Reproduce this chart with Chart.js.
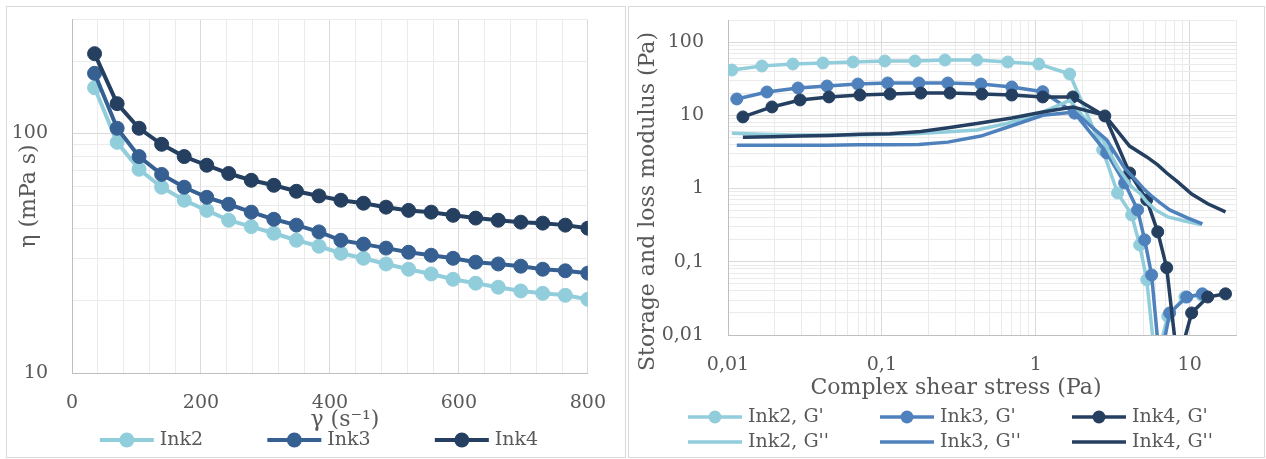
<!DOCTYPE html>
<html>
<head>
<meta charset="utf-8">
<script src="https://cdn.jsdelivr.net/npm/chart.js@4"></script>
<style>
  html, body { margin: 0; padding: 0; background: #fff; }
  .panel { position: absolute; top: 6px; height: 452px; border: 1px solid #d9d9d9; box-sizing: border-box; background: #fff; }
  #leftPanel { left: 6px; width: 620px; }
  #rightPanel { left: 628px; width: 637px; }
  canvas { position: absolute; left: 0; top: 0; }
</style>
</head>
<body>
<div class="panel" id="leftPanel"><canvas id="viscChart" width="618" height="450" style="width:618px;height:450px"></canvas></div>
<div class="panel" id="rightPanel"><canvas id="modChart" width="635" height="450" style="width:635px;height:450px"></canvas></div>
<script>
// ---- left chart: viscosity vs shear rate ----
const shearRate = [35, 70, 104, 139, 174, 209, 243, 278, 313, 348, 383, 417, 452, 487, 522, 557, 591, 626, 661, 696, 730, 765, 800];
const viscInk2 = [155, 91.7, 70.8, 59.6, 52.6, 47.7, 43.4, 40.8, 38.3, 35.8, 33.8, 31.6, 30.1, 28.5, 27.1, 25.9, 24.6, 23.7, 22.8, 22.0, 21.5, 21.1, 20.3];
const viscInk3 = [178, 105, 80, 67.4, 59.6, 54.1, 50.6, 46.9, 43.8, 41.4, 38.8, 35.8, 34.5, 33.2, 31.9, 31.0, 30.1, 29.0, 28.5, 27.9, 27.1, 26.7, 26.1];
const viscInk4 = [215, 133, 105, 90, 80, 73.6, 68, 63.7, 60.7, 57.3, 54.8, 52.6, 51.1, 49.2, 47.7, 46.9, 45.5, 44.3, 43.4, 42.6, 42.2, 41.4, 40.2];
const viscLabels = [10, 100];
const shearLabels = [0, 200, 400, 600, 800];

// ---- right chart: G' / G'' vs complex shear stress ----
const stressInk2 = [0.0106, 0.0166, 0.0264, 0.0414, 0.0649, 0.1045, 0.164, 0.257, 0.414, 0.658, 1.045, 1.66, 2.72, 3.40, 4.20, 4.73, 5.26, 6.0, 7.2, 9.3, 12.0];
const gpInk2  = [41.5, 47.1, 50.1, 51.7, 53.4, 55.1, 55.1, 56.8, 56.8, 53.4, 50.1, 36.6, 3.37, 0.87, 0.436, 0.170, 0.0566, 0.004, 0.018, 0.033, 0.035];
const gppInk2 = [5.7, 5.5, 5.4, 5.4, 5.4, 5.5, 5.6, 5.9, 6.3, 7.8, 10.5, 16, 4.6, 1.97, 1.05, 0.87, 0.66, 0.51, 0.41, 0.36, 0.32];

const stressInk3 = [0.0114, 0.0179, 0.0285, 0.0440, 0.0698, 0.109, 0.174, 0.268, 0.440, 0.698, 1.11, 1.79, 2.89, 3.78, 4.59, 5.10, 5.66, 6.4, 7.41, 9.57, 12.1];
const gpInk3  = [16.7, 20.8, 23.6, 25.1, 26.7, 27.6, 27.6, 27.6, 26.7, 24.3, 21, 10.7, 3.06, 1.19, 0.51, 0.199, 0.066, 0.004, 0.020, 0.033, 0.0365];
const gppInk3 = [3.9, 3.9, 3.9, 3.9, 3.95, 3.95, 4.0, 4.3, 5.2, 7.2, 10.0, 11.1, 4.6, 1.9, 1.23, 0.96, 0.79, 0.64, 0.51, 0.40, 0.33];

const stressInk4 = [0.0125, 0.0193, 0.0294, 0.0453, 0.072, 0.113, 0.179, 0.277, 0.446, 0.698, 1.11, 1.74, 2.81, 4.07, 5.26, 6.20, 7.09, 8.36, 10.3, 13.1, 17.1];
const gpInk4  = [9.5, 13.0, 16.2, 17.8, 18.9, 19.5, 20.1, 20.1, 19.5, 18.9, 17.8, 17.8, 9.8, 1.63, 0.70, 0.256, 0.083, 0.004, 0.020, 0.033, 0.0365];
const gppInk4 = [5.0, 5.1, 5.2, 5.3, 5.5, 5.6, 6.0, 6.8, 7.9, 9.2, 11.1, 13.0, 10.0, 3.8, 2.7, 2.1, 1.63, 1.23, 0.84, 0.62, 0.48];

const modLabels = [0.01, 0.1, 1, 10, 100];
const stressLabels = [0.01, 0.1, 1, 10];

const FONT = 'DejaVu Serif';
const GRAY = '#595959';
const MAJOR = '#d9d9d9';
const MINOR = '#ebebeb';
const AXIS = '#bfbfbf';

// 1..9 x 10^e gridlines between two decades, plus any extra top values
function logGrid(fromExp, toExp, extra) {
  const out = [];
  for (let e = fromExp; e < toExp; e++) {
    for (let m = 1; m < 10; m++) out.push(parseFloat((m * Math.pow(10, e)).toPrecision(6)));
  }
  return out.concat(extra);
}
const viscGrid = logGrid(1, 2, [100, 200, 300]);
const modGrid = logGrid(-2, 2, [100, 200]);
const stressGrid = logGrid(-2, 1, [10, 20]);

const fmt = v => String(v).replace('.', ',');
const pts = (xs, ys) => xs.map((x, i) => ({ x, y: ys[i] }));

// fixed-size y axis; drop the label overhang so the plot reaches the layout padding
const fixWidth = w => s => { s.width = w; s.paddingTop = 0; s.paddingBottom = 0; };

// Excel-style legend: line (+ marker) icon, laid out on a fixed column grid
const lineLegend = {
  id: 'lineLegend',
  afterDraw(chart, args, opts) {
    const ctx = chart.ctx;
    const sets = chart.data.datasets;
    ctx.save();
    ctx.font = opts.size + 'px "' + FONT + '"';
    const lastCol = sets.filter((d, i) => i % opts.columns === opts.columns - 1)
      .map(d => ctx.measureText(d.label).width);
    const total = (opts.columns - 1) * opts.stride + opts.iconWidth + opts.textGap + Math.max(...lastCol);
    const start = (chart.width - total) / 2 + (opts.shift || 0);
    sets.forEach((d, i) => {
      const x = start + (i % opts.columns) * opts.stride;
      const y = opts.top + Math.floor(i / opts.columns) * opts.rowHeight;
      ctx.strokeStyle = d.borderColor;
      ctx.lineWidth = d.borderWidth;
      ctx.beginPath();
      ctx.moveTo(x, y);
      ctx.lineTo(x + opts.iconWidth, y);
      ctx.stroke();
      if (d.pointRadius > 0) {
        ctx.fillStyle = d.borderColor;
        ctx.beginPath();
        ctx.arc(x + opts.iconWidth / 2, y, opts.markerRadius, 0, Math.PI * 2);
        ctx.fill();
      }
      ctx.fillStyle = GRAY;
      ctx.textAlign = 'left';
      ctx.textBaseline = 'middle';
      ctx.fillText(d.label, x + opts.iconWidth + opts.textGap, y);
    });
    ctx.restore();
  }
};

// axis titles like Chart.js draws them, but slid along the axis (Excel does not centre them)
const shiftedTitles = {
  id: 'shiftedTitles',
  afterDraw(chart, args, opts) {
    const ctx = chart.ctx;
    Object.keys(opts.shift).forEach(id => {
      const scale = chart.scales[id];
      const t = scale.options.title;
      const font = Chart.helpers.toFont(t.font);
      ctx.save();
      ctx.font = font.string;
      ctx.fillStyle = t.color;
      ctx.textAlign = 'center';
      ctx.textBaseline = 'middle';
      if (scale.isHorizontal()) {
        ctx.translate((scale.left + scale.right) / 2 + opts.shift[id], scale.bottom - font.lineHeight / 2);
      } else {
        ctx.translate(scale.left + opts.pad + font.lineHeight / 2, (scale.top + scale.bottom) / 2 + opts.shift[id]);
        ctx.rotate(-Math.PI / 2);
      }
      ctx.fillText(t.text, 0, 0);
      ctx.restore();
    });
  }
};

function series(label, data, color, marker, width, radius, order) {
  return {
    label, data, order,
    borderColor: color,
    backgroundColor: color,
    borderWidth: width,
    pointRadius: marker ? radius : 0,
    pointBorderWidth: 1,
    pointBackgroundColor: color,
    pointBorderColor: color,
    tension: 0,
    fill: false
  };
}

const tickFont = { family: FONT, size: 19 };
const titleFont = { family: FONT, size: 22 };

new Chart(document.getElementById('viscChart'), {
  type: 'line',
  data: {
    datasets: [
      series('Ink2', pts(shearRate, viscInk2), '#92cddc', true, 4, 7, 2),
      series('Ink3', pts(shearRate, viscInk3), '#366092', true, 4, 7, 1),
      series('Ink4', pts(shearRate, viscInk4), '#243f60', true, 4, 7, 0)
    ]
  },
  options: {
    responsive: false,
    animation: false,
    devicePixelRatio: 1,
    events: [],
    layout: { padding: { top: 12, right: 35, bottom: 24, left: 0 } },
    plugins: {
      legend: { display: false },
      tooltip: { enabled: false },
      lineLegend: { columns: 3, stride: 167.5, top: 433, rowHeight: 25, iconWidth: 54, textGap: 6, markerRadius: 7.5, size: 19, shift: 3 },
      shiftedTitles: { pad: 9, shift: { x: 15, y: 0 } }
    },
    scales: {
      x: {
        type: 'linear', min: 0, max: 800,
        afterFit: s => { s.height = 60; },
        ticks: { stepSize: 40, autoSkip: false, maxRotation: 0, padding: 19, color: GRAY, font: tickFont,
          callback: v => shearLabels.includes(v) ? String(v) : '' },
        grid: { drawTicks: false, color: c => shearLabels.includes(c.tick.value) ? MAJOR : MINOR },
        border: { color: AXIS },
        title: { display: false, text: 'γ (s⁻¹)', color: GRAY, font: titleFont }
      },
      y: {
        type: 'logarithmic', min: 10, max: 300,
        afterBuildTicks: s => { s.ticks = viscGrid.map(v => ({ value: v })); },
        afterFit: fixWidth(65),
        ticks: { autoSkip: false, padding: 24, color: GRAY, font: tickFont,
          callback: v => viscLabels.includes(v) ? fmt(v) : '' },
        grid: { drawTicks: false, color: c => viscLabels.includes(c.tick.value) ? MAJOR : MINOR },
        border: { color: AXIS },
        title: { display: false, text: 'η (mPa s)', color: GRAY, font: titleFont }
      }
    }
  },
  plugins: [lineLegend, shiftedTitles]
});

new Chart(document.getElementById('modChart'), {
  type: 'line',
  data: {
    datasets: [
      series("Ink2, G'", pts(stressInk2, gpInk2), '#92cddc', true, 3.5, 6, 5),
      series("Ink3, G'", pts(stressInk3, gpInk3), '#4f81bd', true, 3.5, 6, 4),
      series("Ink4, G'", pts(stressInk4, gpInk4), '#243f60', true, 3.5, 6, 3),
      series("Ink2, G''", pts(stressInk2, gppInk2), '#92cddc', false, 3.5, 0, 2),
      series("Ink3, G''", pts(stressInk3, gppInk3), '#4f81bd', false, 3.5, 0, 1),
      series("Ink4, G''", pts(stressInk4, gppInk4), '#243f60', false, 3.5, 0, 0)
    ]
  },
  options: {
    responsive: false,
    animation: false,
    devicePixelRatio: 1,
    events: [],
    layout: { padding: { top: 13, right: 28, bottom: 56, left: 0 } },
    plugins: {
      legend: { display: false },
      tooltip: { enabled: false },
      lineLegend: { columns: 3, stride: 192, top: 410, rowHeight: 25, iconWidth: 54, textGap: 6, markerRadius: 6.5, size: 19, shift: 4 },
      shiftedTitles: { pad: 6, shift: { x: -26, y: 24 } }
    },
    scales: {
      x: {
        type: 'logarithmic', min: 0.01, max: 20,
        afterBuildTicks: s => { s.ticks = stressGrid.map(v => ({ value: v })); },
        afterFit: s => { s.height = 66; },
        ticks: { autoSkip: false, maxRotation: 0, padding: 19, color: GRAY, font: tickFont,
          callback: v => stressLabels.includes(v) ? fmt(v) : '' },
        grid: { drawTicks: false, color: c => stressLabels.includes(c.tick.value) ? MAJOR : MINOR },
        border: { color: AXIS },
        title: { display: false, text: 'Complex shear stress (Pa)', color: GRAY, font: titleFont }
      },
      y: {
        type: 'logarithmic', min: 0.01, max: 200,
        afterBuildTicks: s => { s.ticks = modGrid.map(v => ({ value: v })); },
        afterFit: fixWidth(99),
        ticks: { autoSkip: false, padding: 24, color: GRAY, font: tickFont,
          callback: v => modLabels.includes(v) ? fmt(v) : '' },
        grid: { drawTicks: false, color: c => modLabels.includes(c.tick.value) ? MAJOR : MINOR },
        border: { color: AXIS },
        title: { display: false, text: 'Storage and loss modulus (Pa)', color: GRAY, font: titleFont }
      }
    }
  },
  plugins: [lineLegend, shiftedTitles]
});
</script>
</body>
</html>
